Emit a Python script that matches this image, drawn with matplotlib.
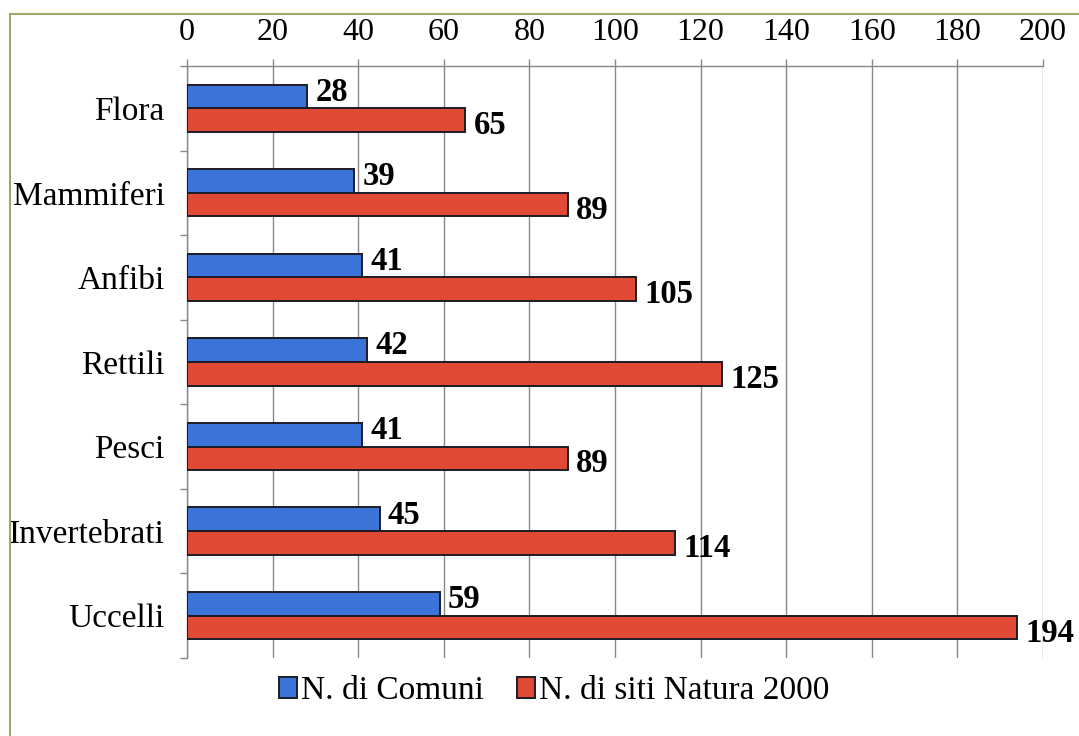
import numpy as np
import matplotlib.pyplot as plt
from matplotlib.patches import Rectangle
from matplotlib.ticker import FixedLocator

plt.rcParams['font.family'] = ['Liberation Serif', 'DejaVu Serif']

categories = ['Flora', 'Mammiferi', 'Anfibi', 'Rettili', 'Pesci', 'Invertebrati', 'Uccelli']
comuni = [28, 39, 41, 42, 41, 45, 59]
siti = [65, 89, 105, 125, 89, 114, 194]
x_ticks = list(range(0, 201, 20))

blue = '#3b73d9'
red = '#e04a34'
edge = '#1c1c28'

fig = plt.figure(figsize=(10.79, 7.36), dpi=100)
ax = fig.add_axes([0.1733, 0.106, 0.7933, 0.8044])

y = np.arange(len(categories))
h = 0.28
ax.barh(y - h / 2, comuni, height=h, color=blue, edgecolor=edge, linewidth=1.4,
        label='N. di Comuni', zorder=3)
ax.barh(y + h / 2, siti, height=h, color=red, edgecolor=edge, linewidth=1.4,
        label='N. di siti Natura 2000', zorder=3)

for i in range(len(categories)):
    ax.annotate(str(comuni[i]), (comuni[i], y[i] - h / 2), xytext=(6, 3),
                textcoords='offset points', ha='left', va='center',
                fontsize=23.5, fontweight='bold', zorder=4, annotation_clip=False)
    ax.annotate(str(siti[i]), (siti[i], y[i] + h / 2), xytext=(6, -4),
                textcoords='offset points', ha='left', va='center',
                fontsize=23.5, fontweight='bold', zorder=4, annotation_clip=False)

ax.set_xlim(0, 200)
ax.set_ylim(len(categories) - 0.5, -0.5)
ax.set_xticks(x_ticks)
ax.xaxis.tick_top()
ax.tick_params(axis='x', which='major', labelsize=23, length=5, width=1,
               color='#888888', pad=9)
ax.set_yticks(y)
ax.set_yticklabels(categories)
ax.yaxis.set_minor_locator(FixedLocator(np.arange(-0.5, len(categories), 1)))
ax.tick_params(axis='y', which='major', labelsize=24, length=0, pad=16)
ax.tick_params(axis='y', which='minor', length=5, width=1, color='#888888')

ax.grid(axis='x', color='#888888', linewidth=1, zorder=0)
for s in ['right', 'bottom']:
    ax.spines[s].set_visible(False)
for s in ['top', 'left']:
    ax.spines[s].set_color('#888888')
    ax.spines[s].set_linewidth(1)

fig.legend(loc='center', bbox_to_anchor=(554 / 1079, 1 - 691 / 736), ncol=2,
           frameon=False, fontsize=24, handlelength=0.55, handleheight=0.55,
           handletextpad=0.1, columnspacing=1.0)

# thin green frame around the chart
fig.patches.append(Rectangle((10 / 1079, -0.02), 1.1, 1 - 14 / 736 + 0.02,
                             transform=fig.transFigure, fill=False,
                             edgecolor='#9aaa6a', linewidth=1.5))

fig.savefig('out.png', dpi=100)
